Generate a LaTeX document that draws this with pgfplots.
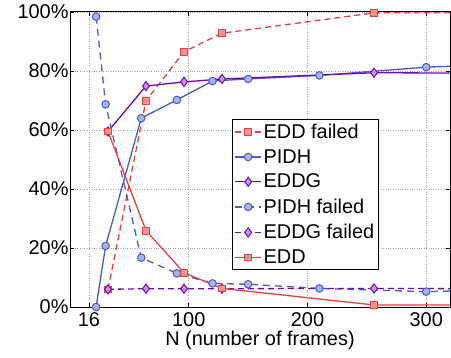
\documentclass[border=0pt]{standalone}
\usepackage{pgfplots}
\pgfplotsset{compat=1.18}
\usepackage{fontspec}
\setmainfont{Liberation Sans}
\definecolor{cred}{RGB}{238,62,62}
\definecolor{credf}{RGB}{248,150,150}
\definecolor{cblue}{RGB}{72,92,200}
\definecolor{cbluef}{RGB}{168,180,238}
\definecolor{cpur}{RGB}{112,10,180}
\definecolor{cpurf}{RGB}{196,150,230}
\begin{document}
\begin{tikzpicture}
\begin{axis}[
  scale only axis, width=380bp, height=295bp,
  xmin=0, xmax=320, ymin=0, ymax=100,
  xtick={16,100,200,300}, ytick={0,20,40,60,80,100},
  yticklabel={\pgfmathprintnumber{\tick}\%},
  /pgf/number format/assume math mode=true,
  font=\fontsize{20}{23}\selectfont,
  xlabel={N (number of frames)},
  xlabel style={yshift=2bp},
  xticklabel style={yshift=-2bp},
  yticklabel style={xshift=2bp},
  grid=major, major grid style={gray!70, dotted, line width=0.8pt},
  axis line style={line width=1pt},
  tick style={black, line width=0.8pt}, major tick length=4bp,
  tick label style={font=\fontsize{20}{23}\selectfont},
  legend style={at={(0.426,0.637)}, anchor=north west, draw=black, line width=0.8pt,
    font=\fontsize{20}{23}\selectfont, row sep=5.5bp, inner sep=2.5bp},
  legend cell align=left,
  legend image code/.code={\draw[mark repeat=2,mark phase=2] plot coordinates {(0cm,0cm) (0.45cm,0cm) (0.9cm,0cm)};},
  every axis plot/.append style={line width=1.3pt},
]
\addplot[cred, dash pattern=on 6bp off 4bp, mark=square*, mark size=3.4bp, mark options={solid, fill=credf, draw=cred, line width=0.8pt}]
  coordinates {(32,6) (64,69.9) (96,86.5) (128,92.8) (256,99.7) (512,100)};
\addlegendentry{EDD failed}
\addplot[cblue, mark=*, mark size=3.8bp, mark options={fill=cbluef, draw=cblue, line width=1pt}]
  coordinates {(22,0) (30,20.7) (60,64) (90,70.2) (120,76.6) (150,77.3) (210,78.5) (300,81.3) (360,82.2)};
\addlegendentry{PIDH}
\addplot[cpur, mark=diamond*, mark size=4.6bp, mark options={fill=cpurf, draw=cpur, line width=1pt}]
  coordinates {(32,59.5) (64,74.9) (96,76.3) (128,77.3) (256,79.4) (512,79.1)};
\addlegendentry{EDDG}
\addplot[cblue, dash pattern=on 7bp off 5bp, mark=*, mark size=3.8bp, mark options={solid, fill=cbluef, draw=cblue, line width=1pt}]
  coordinates {(22,98.4) (30,68.7) (60,16.7) (90,11.4) (120,8.0) (150,7.7) (210,6.3) (300,5.2) (360,5.8)};
\addlegendentry{PIDH failed}
\addplot[cpur, dash pattern=on 6bp off 4bp, mark=diamond*, mark size=4.6bp, mark options={solid, fill=cpurf, draw=cpur, line width=1pt}]
  coordinates {(32,6) (64,6.2) (96,6.2) (128,6.2) (256,6.3) (512,6.0)};
\addlegendentry{EDDG failed}
\addplot[cred, mark=square*, mark size=3.4bp, mark options={fill=credf, draw=cred, line width=0.8pt}]
  coordinates {(32,59.5) (64,25.9) (96,11.6) (128,6.3) (256,0.7) (512,0.5)};
\addlegendentry{EDD}
\end{axis}
\path ([shift={(-70bp,-51bp)}]current axis.south west) rectangle ([shift={(1bp,12bp)}]current axis.north east);
\end{tikzpicture}
\end{document}
